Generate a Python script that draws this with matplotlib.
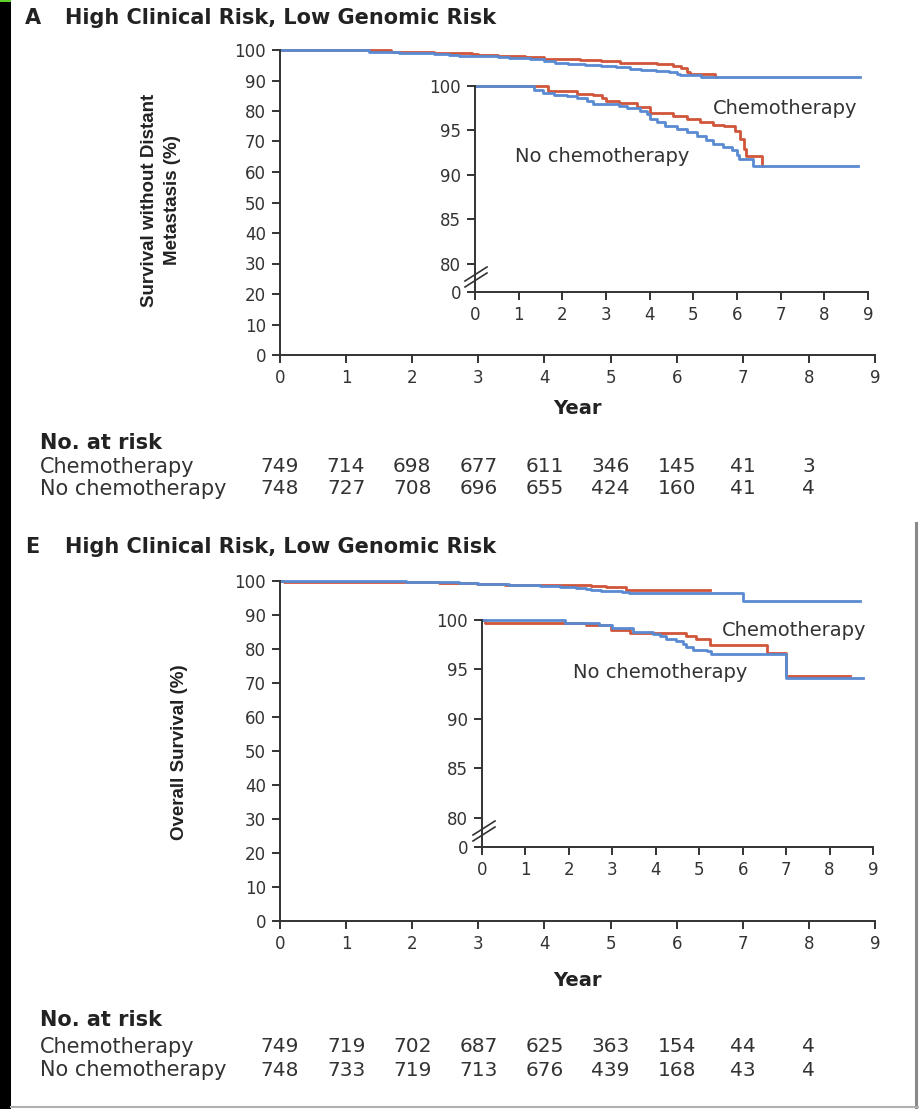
import matplotlib
matplotlib.use("Agg")
import matplotlib.pyplot as plt
from matplotlib.lines import Line2D
from matplotlib.patches import Rectangle
from matplotlib.transforms import blended_transform_factory

# ===================== data =====================
years = [0, 1, 2, 3, 4, 5, 6, 7, 8, 9]
risk_years = [0, 1, 2, 3, 4, 5, 6, 7, 8]

# A: survival without distant metastasis (step change points)
a_chemo_t = [0, 1.68, 2.33, 2.7, 2.9, 3.0, 3.3, 3.7, 4.0, 4.54, 4.85, 5.15, 5.45,
             5.7, 5.95, 6.07, 6.15, 6.2, 6.58]
a_chemo_s = [100, 99.45, 99.15, 98.95, 98.6, 98.3, 98.1, 97.6, 96.95, 96.6, 96.3,
             95.9, 95.65, 95.5, 94.9, 94.0, 92.9, 92.1, 91.0]
a_chemo_end = 6.6
a_nochemo_t = [0, 1.34, 1.56, 1.8, 2.1, 2.33, 2.56, 2.7, 3.3, 3.47, 3.78, 3.93, 4.0,
               4.16, 4.35, 4.62, 4.85, 5.08, 5.3, 5.46, 5.69, 5.88, 6.0, 6.05, 6.37]
a_nochemo_s = [100, 99.5, 99.2, 99.0, 98.9, 98.6, 98.3, 98.0, 97.8, 97.5, 97.2, 96.9,
               96.3, 95.9, 95.5, 95.2, 94.8, 94.4, 93.9, 93.5, 93.1, 92.8, 92.2, 91.8, 91.0]
a_nochemo_end = 8.78
a_risk_chemo = [749, 714, 698, 677, 611, 346, 145, 41, 3]
a_risk_nochemo = [748, 727, 708, 696, 655, 424, 160, 41, 4]

# E: overall survival
e_chemo_t = [0, 0.06, 2.4, 2.98, 3.4, 4.7, 4.93, 5.24, 6.55, 7.0]
e_chemo_s = [100, 99.7, 99.5, 99.0, 98.7, 98.4, 98.1, 97.5, 96.7, 94.3]
e_chemo_end = 8.47
e_chemo_end_main = 6.5
e_nochemo_t = [0, 1.9, 2.7, 3.0, 3.47, 3.93, 4.1, 4.24, 4.47, 4.63, 4.7, 4.86, 5.17,
               5.28, 7.0]
e_nochemo_s = [100, 99.7, 99.5, 99.2, 98.8, 98.6, 98.4, 98.1, 97.9, 97.6, 97.3, 97.0,
               96.9, 96.6, 94.1]
e_nochemo_end = 8.77
e_risk_chemo = [749, 719, 702, 687, 625, 363, 154, 44, 4]
e_risk_nochemo = [748, 733, 719, 713, 676, 439, 168, 43, 4]

main_yticks = [0, 10, 20, 30, 40, 50, 60, 70, 80, 90, 100]
inset_yticks = [80, 85, 90, 95, 100]

RED = "#d0553a"
BLUE = "#5a8bd2"
AX = "#333333"

W, H = 919, 1109
fig = plt.figure(figsize=(W / 100, H / 100), dpi=100)
fig.patch.set_facecolor("white")
plt.rcParams["font.family"] = ["DejaVu Sans"]


def rect(x0, x1, ytop, ybot):
    return [x0 / W, 1 - ybot / H, (x1 - x0) / W, (ybot - ytop) / H]


def ftext(x, y, s, **kw):
    fig.text(x / W, 1 - y / H, s, **kw)


def style(ax, ylim, yticks, ylabels):
    ax.set_xlim(0, 9)
    ax.set_ylim(*ylim)
    ax.set_xticks(years)
    ax.set_yticks(yticks)
    ax.set_yticklabels(ylabels)
    ax.set_facecolor("none")
    for sp in ["top", "right"]:
        ax.spines[sp].set_visible(False)
    for sp in ["left", "bottom"]:
        ax.spines[sp].set_color(AX)
        ax.spines[sp].set_linewidth(1.4)
    ax.tick_params(direction="out", length=6, width=1.4, color=AX,
                   labelsize=12, labelcolor=AX, pad=4)


def km(ax, t, s, end, color):
    x = [v for v in t if v <= end] + [end]
    y = s[:len(x) - 1]
    y = y + [y[-1]]
    ax.step(x, y, where="post", color=color, lw=2.0, clip_on=False)


def brk(cx, cy):
    # axis break marks on the inset y axis
    for dy in (-3, 3):
        fig.add_artist(Line2D([(cx - 11) / W, (cx + 11) / W],
                              [1 - (cy + dy + 7) / H, 1 - (cy + dy - 7) / H],
                              color=AX, lw=1.2))


def panel(letter, ytitle, main_r, inset_r, inset_bottom, ylab, ylab_xy,
          chemo, nochemo, risk_c, risk_n, year_y, risk_y, lab_c, lab_n, brk_xy):
    ftext(25, ytitle, letter, fontsize=15, fontweight="bold", color="#222222", va="center")
    ftext(65, ytitle, "High Clinical Risk, Low Genomic Risk", fontsize=15,
          fontweight="bold", color="#222222", va="center")

    ax = fig.add_axes(rect(*main_r))
    style(ax, (0, 100), main_yticks, [str(v) for v in main_yticks])
    km(ax, chemo[0], chemo[1], chemo[3], RED)
    km(ax, nochemo[0], nochemo[1], nochemo[2], BLUE)

    ins = fig.add_axes(rect(*inset_r))
    style(ins, (inset_bottom, 100), [inset_bottom] + inset_yticks,
          ["0"] + [str(v) for v in inset_yticks])
    km(ins, chemo[0], chemo[1], chemo[2], RED)
    km(ins, nochemo[0], nochemo[1], nochemo[2], BLUE)
    brk(*brk_xy)

    ftext(lab_c[0], lab_c[1], "Chemotherapy", fontsize=14, color=AX, va="center")
    ftext(lab_n[0], lab_n[1], "No chemotherapy", fontsize=14, color=AX, va="center")

    ftext(ylab_xy[0], ylab_xy[1], ylab, rotation=90, ha="center", va="center",
          fontsize=13.5, fontweight="bold", family=["Liberation Sans", "DejaVu Sans"],
          color="#222222", linespacing=1.45)
    ftext(577, year_y, "Year", fontsize=14, fontweight="bold", color="#222222",
          ha="center", va="center")

    ftext(40, risk_y[0], "No. at risk", fontsize=15, fontweight="bold",
          color="#222222", va="center")
    ftext(40, risk_y[1], "Chemotherapy", fontsize=15, color="#333333", va="center")
    ftext(40, risk_y[2], "No chemotherapy", fontsize=15, color="#333333", va="center")
    tr = blended_transform_factory(ax.transData, fig.transFigure)
    for yr, c, n in zip(risk_years, risk_c, risk_n):
        ax.text(yr, 1 - risk_y[1] / H, str(c), transform=tr, ha="center", va="center",
                fontsize=14.5, color="#333333")
        ax.text(yr, 1 - risk_y[2] / H, str(n), transform=tr, ha="center", va="center",
                fontsize=14.5, color="#333333")


panel("A", 18, (280, 875, 50, 355), (475, 868, 86, 292), 76.85,
      "Survival without Distant\nMetastasis (%)", (161, 200),
      (a_chemo_t, a_chemo_s, a_chemo_end, a_chemo_end), (a_nochemo_t, a_nochemo_s, a_nochemo_end),
      a_risk_chemo, a_risk_nochemo, 408, (443, 467, 489),
      (713, 108), (515, 157), (476, 277))

panel("E", 547, (280, 875, 581, 921), (482, 873, 620, 847), 77.07,
      "Overall Survival (%)", (180, 752),
      (e_chemo_t, e_chemo_s, e_chemo_end, e_chemo_end_main), (e_nochemo_t, e_nochemo_s, e_nochemo_end),
      e_risk_chemo, e_risk_nochemo, 980, (1020, 1047, 1070),
      (722, 630), (573, 673), (484, 831))

# page edges from the screenshot
fig.add_artist(Rectangle((0, 0), 11 / W, 1, transform=fig.transFigure,
                         facecolor="black", edgecolor="none"))
fig.add_artist(Rectangle((0, 1 - 2 / H), 11 / W, 2 / H, transform=fig.transFigure,
                         facecolor="#5fcf2a", edgecolor="none"))
fig.add_artist(Line2D([916 / W, 916 / W], [1 - 523 / H, 1 - 1107 / H], color="#8a8a8a", lw=2.2))
fig.add_artist(Line2D([11 / W, 918 / W], [1 - 1106.5 / H, 1 - 1106.5 / H], color="#b0b0b0", lw=1.5))

fig.savefig("out.png", dpi=100)
